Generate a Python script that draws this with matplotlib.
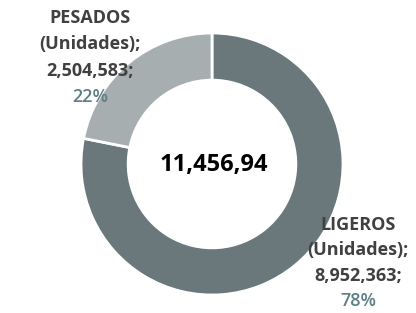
import matplotlib.pyplot as plt

# data
categories = ['LIGEROS', 'PESADOS']
units = [8952363, 2504583]
percents = ['78%', '22%']
total_label = '11,456,94'

colors = ['#6a787c', '#a6aeb0']
text_color = '#404040'
pct_color = '#5e7f86'


def main():
    plt.rcParams['font.family'] = ['Open Sans', 'DejaVu Sans']
    W, H = 416, 313
    fig = plt.figure(figsize=(W / 100, H / 100), dpi=100)
    ax = fig.add_axes([0, 0, 1, 1])

    ax.pie(
        units,
        colors=colors,
        startangle=90,
        counterclock=False,
        center=(212, H - 164),
        radius=131,
        wedgeprops=dict(width=131 * 0.36, edgecolor='white', linewidth=2),
    )
    ax.set_xlim(0, W)
    ax.set_ylim(0, H)
    ax.set_aspect('equal')
    ax.axis('off')

    # label blocks: (x centre, first line y, line step) in pixels
    blocks = {
        'PESADOS': (90, 18, 26.5),
        'LIGEROS': (358, 225, 25.5),
    }
    for name, val, pct in zip(categories, units, percents):
        x, y0, step = blocks[name]
        lines = [name, '(Unidades);', f'{val:,};']
        for i, line in enumerate(lines):
            ax.text(x, H - (y0 + i * step), line, ha='center', va='center',
                    fontsize=13, fontweight='bold', color=text_color)
        ax.text(x, H - (y0 + 3 * step), pct, ha='center', va='center',
                fontsize=13, fontweight='semibold', color=pct_color)

    ax.text(214, H - 165, total_label, ha='center', va='center',
            fontsize=17, fontweight='bold', color='black')

    fig.savefig('out.png', dpi=100)


if __name__ == "__main__":
    main()
